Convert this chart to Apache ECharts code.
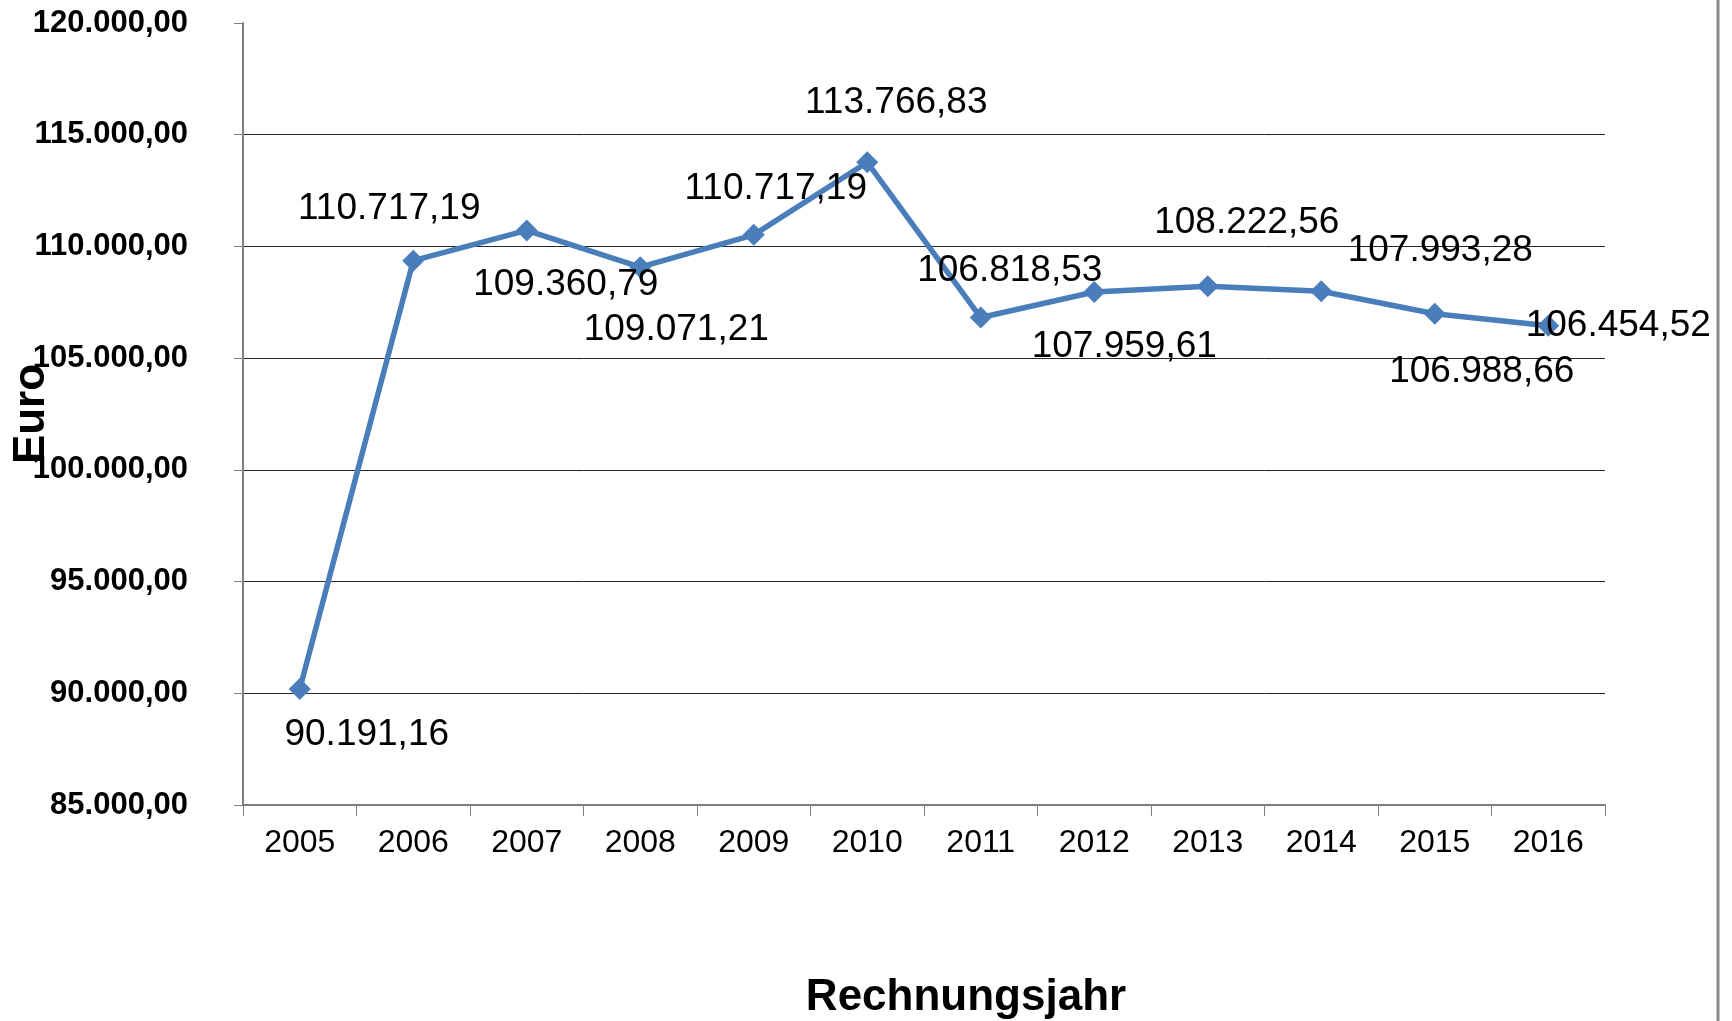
<!DOCTYPE html>
<html>
<head>
<meta charset="utf-8">
<title>Rechnungsjahr</title>
<script src="https://cdn.jsdelivr.net/npm/echarts@6/dist/echarts.min.js"></script>
<style>
    html, body { margin: 0; padding: 0; background: #fff; }
    #chart { width: 1732px; height: 1021px; }
</style>
</head>
<body>
<div id="chart"></div>
<script>
// Jahre und Werte (Euro)
var years = ['2005', '2006', '2007', '2008', '2009', '2010', '2011', '2012', '2013', '2014', '2015', '2016'];
var values = [90191.16, 109360.79, 110717.19, 109071.21, 110520, 113766.83, 106818.53, 107959.61, 108222.56, 107993.28, 106988.66, 106454.52];
// Beschriftungen wie im Original (nicht immer passend zum Punkt)
var labelTexts = ['90.191,16', '110.717,19', '109.360,79', '109.071,21', '110.717,19', '113.766,83', '106.818,53', '107.959,61', '108.222,56', '107.993,28', '106.988,66', '106.454,52'];
// Versatz der Beschriftung zum Punkt [dx, dy]
var labelOffsets = [[67, 46], [-24, -52], [39, 54], [36, 63], [22, -46], [29, -59], [29, -47], [30, 55], [39, -63], [119, -40], [47, 58], [70, 0]];

var yMin = 85000, yMax = 120000, yStep = 5000;

var fmtEuro = function (v) {
    var parts = v.toFixed(2).split('.');
    var int = parts[0].replace(/\B(?=(\d{3})+(?!\d))/g, '.');
    return int + ',' + parts[1];
};

var font = 'Liberation Sans, Arial, sans-serif';

var seriesData = [];
for (var i = 0; i < values.length; i++) {
    seriesData.push({
        value: values[i],
        label: {
            formatter: labelTexts[i],
            offset: labelOffsets[i]
        }
    });
}

var chart = echarts.init(document.getElementById('chart'), null, { renderer: 'canvas' });

var option = {
    animation: false,
    backgroundColor: '#fff',
    grid: {
        left: 243,
        right: 127,
        top: 23,
        bottom: 216,
        containLabel: false,
        outerBoundsMode: 'none'
    },
    xAxis: {
        type: 'category',
        data: years,
        boundaryGap: true,
        name: 'Rechnungsjahr',
        nameLocation: 'middle',
        nameGap: 171,
        nameMoveOverlap: false,
        nameTextStyle: {
            fontFamily: font,
            fontSize: 44,
            fontWeight: 'bold',
            color: '#000',
            padding: [0, 0, 0, 84]
        },
        axisLine: { lineStyle: { color: '#7f7f7f', width: 2 } },
        axisTick: { show: true, length: 11, inside: false, lineStyle: { color: '#7f7f7f', width: 1 } },
        axisLabel: {
            fontFamily: font,
            fontSize: 32,
            color: '#000',
            margin: 22
        },
        splitLine: { show: false }
    },
    yAxis: {
        type: 'value',
        min: yMin,
        max: yMax,
        interval: yStep,
        name: 'Euro',
        nameLocation: 'middle',
        nameRotate: 90,
        nameGap: 189,
        nameMoveOverlap: false,
        nameTextStyle: {
            fontFamily: font,
            fontSize: 44,
            fontWeight: 'bold',
            color: '#000'
        },
        axisLine: { show: true, lineStyle: { color: '#7f7f7f', width: 2 } },
        axisTick: { show: true, length: 9, inside: false, lineStyle: { color: '#7f7f7f', width: 1 } },
        axisLabel: {
            fontFamily: font,
            fontSize: 31,
            fontWeight: 'bold',
            color: '#000',
            margin: 55,
            formatter: fmtEuro
        },
        splitLine: {
            show: true,
            showMaxLine: false,
            lineStyle: { color: '#262626', width: 1 }
        }
    },
    series: [{
        type: 'line',
        data: seriesData,
        symbol: 'diamond',
        symbolSize: 22,
        color: '#4a7ebb',
        lineStyle: { color: '#4a7ebb', width: 5.5 },
        itemStyle: { color: '#4a7ebb' },
        label: {
            show: true,
            position: 'inside',
            fontFamily: font,
            fontSize: 37,
            color: '#000'
        },
        z: 3
    }],
    graphic: [{
        type: 'line',
        shape: { x1: 1718, y1: 0, x2: 1718, y2: 1021 },
        style: { stroke: '#8c8c8c', lineWidth: 3 },
        silent: true
    }]
};

chart.setOption(option);
</script>
</body>
</html>
